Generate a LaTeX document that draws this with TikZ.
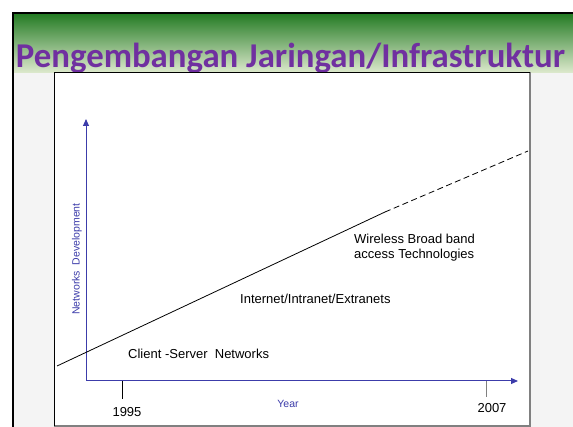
\documentclass[tikz,border=0pt]{standalone}
\usepackage{fontspec}
\setmainfont{Liberation Sans}
\newfontfamily\titlefont{Carlito}
\usepackage{xcolor}
\usepackage{tikz}
\usetikzlibrary{arrows.meta}
\definecolor{titlepurple}{RGB}{112,48,160}
\definecolor{axisblue}{RGB}{60,60,170}
\definecolor{bandtop}{RGB}{34,122,34}
\definecolor{bandbottom}{RGB}{222,234,206}
\definecolor{slidegray}{RGB}{244,244,244}
\tikzset{stage/.style={font=\fontsize{13}{15}\selectfont,align=left,inner sep=0pt,anchor=base west},
axisline/.style={axisblue,line width=1pt,-{Triangle[length=7pt,width=6pt]}},
tickline/.style={line width=0.9pt},
yearlabel/.style={font=\fontsize{13}{15}\selectfont,inner sep=0pt,anchor=base}}

\begin{document}
\begin{tikzpicture}[x=1pt,y=-1pt]
\useasboundingbox (0,0) rectangle (573,427);
% slide background
\fill[white] (0,0) rectangle (573,427);
\fill[slidegray] (13,13) rectangle (573,427);
\shade[top color=bandtop,bottom color=bandbottom] (13,13) rectangle (573,73);
\draw[line width=2pt] (13,427) -- (13,13) -- (573,13);
\node[font=\titlefont\bfseries\fontsize{34.8}{38}\selectfont,text=titlepurple,anchor=base] (title) at (290.5,68) {Pengembangan Jaringan/Infrastruktur};
% chart box
\fill[white] (54,72) rectangle (530,426);
\draw[gray,line width=1.5pt] (530,72) -- (530,426) -- (54,426);
\draw[line width=0.6pt] (54,426) -- (54,72) -- (530,72);
% axes
\coordinate (origin) at (86,381);
\coordinate (ytop) at (86,119);
\coordinate (xend) at (518,381);
\path[axisline] (origin) edge (ytop);
\path[axisline] (origin) edge (xend);
\node[rotate=90,text=axisblue,font=\fontsize{10.5}{12}\selectfont] (ylab) at (77,259) {Networks\ \ Development};
\node[text=axisblue,font=\fontsize{10.5}{12}\selectfont,anchor=base] (xlab) at (288,407) {Year};
% ticks
\coordinate (t1995) at (122,381);
\coordinate (t1995b) at (122,399);
\coordinate (t2007) at (486,381);
\coordinate (t2007b) at (486,397);
\path[tickline] (t1995) edge (t1995b);
\path[tickline,gray] (t2007) edge (t2007b);
\node[yearlabel] (y1995) at (127,416.5) {1995};
\node[yearlabel] (y2007) at (492,412.5) {2007};
% trend
\coordinate (trendstart) at (57,366);
\coordinate (trendmid) at (385,212);
\coordinate (trendend) at (528,151);
\draw[line width=0.8pt] (trendstart) -- (trendmid);
\draw[line width=0.8pt,dash pattern=on 6pt off 3.5pt] (trendmid) -- (trendend);
\node[stage] (wireless) at (354,259) {Wireless Broad band\\access Technologies};
\node[stage] (internet) at (240,304) {Internet/Intranet/Extranets};
\node[stage] (client) at (128,359) {Client -Server\ \ Networks};
\end{tikzpicture}
\end{document}
